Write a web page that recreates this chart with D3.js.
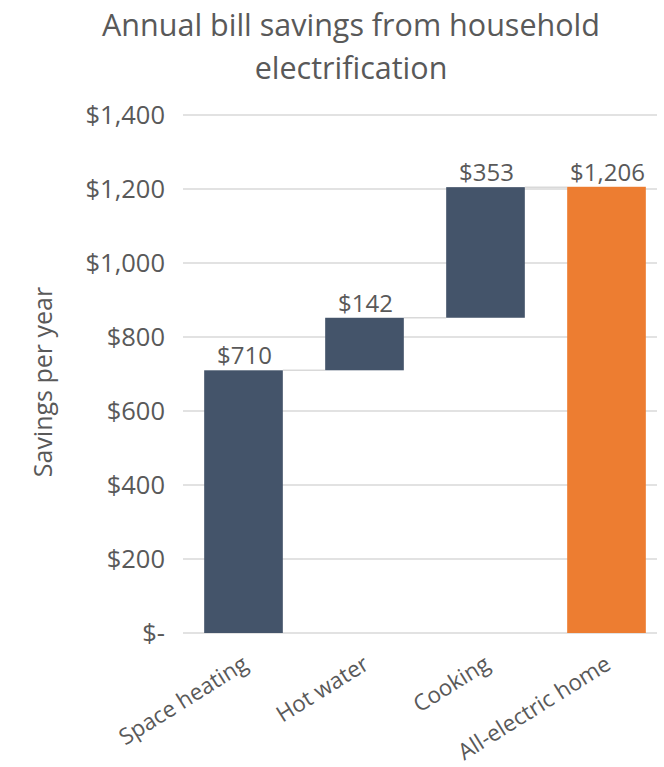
<!DOCTYPE html>
<html>
<head>
<meta charset="utf-8">
<script src="https://cdn.jsdelivr.net/npm/d3@7"></script>
<style>
  html, body { margin: 0; padding: 0; background: #fff; }
  svg { display: block; }
  text { font-family: "Open Sans", "Lato", sans-serif; fill: #595959; }
</style>
</head>
<body>
<svg id="chart" width="664" height="767"></svg>
<script>
// Savings per end use, followed by the all-electric total
const categories = ["Space heating", "Hot water", "Cooking", "All-electric home"];
const increments = [710, 142, 353];
const total = 1206;
const yTicks = [0, 200, 400, 600, 800, 1000, 1200, 1400];
const tickLabels = ["$-", "$200", "$400", "$600", "$800", "$1,000", "$1,200", "$1,400"];

(function draw() {
  const svg = d3.select("#chart");
  const plotL = 183, plotR = 667, plotT = 115, plotB = 633;

  // Waterfall rows: each increment starts where the previous one ended
  let run = 0;
  const rows = increments.map((v, i) => {
    const r = { name: categories[i], start: run, end: run + v, value: v, total: false };
    run += v;
    return r;
  });
  rows.push({ name: categories[3], start: 0, end: total, value: total, total: true });

  const x = d3.scaleBand().domain(categories).range([plotL, plotR])
    .paddingInner(0.35).paddingOuter(0.175);
  const y = d3.scaleLinear().domain([0, 1400]).range([plotB, plotT]);

  const fmt = v => "$" + d3.format(",")(v);

  // Title
  svg.append("text").attr("x", 351).attr("y", 36).attr("text-anchor", "middle")
    .style("font-size", "30.5px").text("Annual bill savings from household");
  svg.append("text").attr("x", 351).attr("y", 79).attr("text-anchor", "middle")
    .style("font-size", "30.5px").text("electrification");

  // Gridlines
  svg.append("g").selectAll("line").data(yTicks).join("line")
    .attr("x1", plotL).attr("x2", 657)
    .attr("y1", d => y(d)).attr("y2", d => y(d))
    .attr("stroke", "#d9d9d9").attr("stroke-width", 1.3);

  // Y axis labels
  svg.append("g").selectAll("text").data(yTicks).join("text")
    .attr("x", 165).attr("y", d => y(d)).attr("dy", "0.36em")
    .attr("text-anchor", "end").style("font-size", "25.5px")
    .text((d, i) => tickLabels[i]);

  svg.append("text")
    .attr("transform", "translate(52,382) rotate(-90)")
    .attr("text-anchor", "middle").style("font-size", "25px")
    .text("Savings per year");

  // Connectors between consecutive bars
  const links = rows.slice(0, -1).map((r, i) => ({ from: r, to: rows[i + 1] }));
  svg.append("g").selectAll("line").data(links).join("line")
    .attr("x1", d => x(d.from.name) + x.bandwidth())
    .attr("x2", d => x(d.to.name))
    .attr("y1", d => y(d.from.end)).attr("y2", d => y(d.from.end))
    .attr("stroke", "#d9d9d9").attr("stroke-width", 1.5);

  // Bars
  svg.append("g").selectAll("rect").data(rows).join("rect")
    .attr("x", d => x(d.name)).attr("width", x.bandwidth())
    .attr("y", d => y(d.end)).attr("height", d => y(d.start) - y(d.end))
    .attr("fill", d => d.total ? "#ED7D31" : "#44546A");

  // Value labels
  svg.append("g").selectAll("text").data(rows).join("text")
    .attr("x", d => x(d.name) + x.bandwidth() / 2 + 1)
    .attr("y", d => y(d.end) - 6)
    .attr("text-anchor", "middle").style("font-size", "24px")
    .text(d => fmt(d.value));

  // Category labels, rotated
  svg.append("g").selectAll("text").data(categories).join("text")
    .attr("transform", d => `translate(${x(d) + x.bandwidth() / 2 + 6},${plotB + 35}) rotate(-32)`)
    .attr("text-anchor", "end").style("font-size", "22.5px")
    .text(d => d);
})();
</script>
</body>
</html>
